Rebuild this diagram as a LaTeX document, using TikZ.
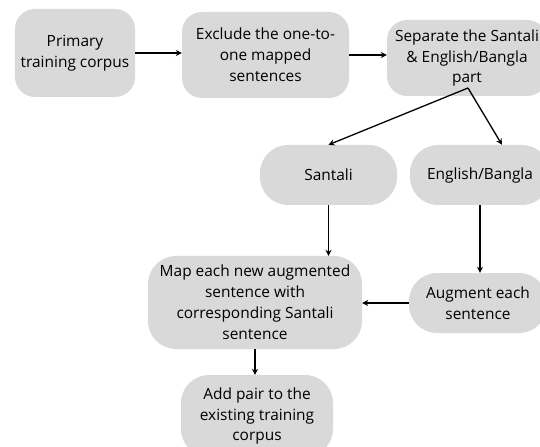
\documentclass[tikz,border=0pt]{standalone}
\usepackage{fontspec}
\setmainfont{Open Sans}
\usetikzlibrary{arrows.meta}
\definecolor{boxgray}{HTML}{D9D9D9}
\tikzset{
  stepbox/.style={fill=boxgray, draw=none, rounded corners=20bp, align=center,
    inner sep=0pt, font=\fontsize{15.5}{21}\selectfont},
  conn/.style={-{Stealth[length=6bp,width=6bp]}, line width=1.3bp, black}
}
\begin{document}
\begin{tikzpicture}[x=1bp,y=-1bp]
\useasboundingbox (0,0) rectangle (540,447);
\clip (0,0) rectangle (540,447);
\node[stepbox, minimum width=120bp, minimum height=88bp] (prim) at (75,53) {Primary\\training corpus};
\node[stepbox, minimum width=167bp, minimum height=86bp] (excl) at (265.5,55) {Exclude the one-to-\\one mapped\\sentences};
\node[stepbox, minimum width=160bp, minimum height=76bp] (sep) at (467,58) {Separate the Santali\\\& English/Bangla\\part};
\node[stepbox, rounded corners=28bp, minimum width=137bp, minimum height=60bp] (sant) at (328.5,175) {Santali};
\node[stepbox, rounded corners=28bp, minimum width=140bp, minimum height=60bp] (eng) at (480,175) {English/Bangla};
\node[stepbox, rounded corners=28bp, minimum width=214bp, minimum height=93bp] (map) at (255,302.5) {Map each new augmented\\sentence with\\corresponding Santali\\sentence};
\node[stepbox, rounded corners=28bp, minimum width=138bp, minimum height=60bp] (aug) at (478,303) {Augment each\\sentence};
\node[stepbox, rounded corners=28bp, minimum width=152bp, minimum height=82bp] (add) at (257,416) {Add pair to the\\existing training\\corpus};
\coordinate (split) at (468,88);
\draw[conn] (prim.east) -- (prim.east -| excl.west);
\draw[conn] (excl.east) -- (excl.east -| sep.west);
\draw[conn] (split) -- (sant.north);
\draw[conn] (split) -- ([xshift=22bp]eng.north);
\draw[conn] (sant.south) -- (map.north -| sant.south);
\draw[conn] (eng.south) -- (aug.north -| eng.south);
\draw[conn] (aug.west) -- (map.east |- aug.west);
\draw[conn] (map.south) -- (add.north -| map.south);
\end{tikzpicture}
\end{document}
